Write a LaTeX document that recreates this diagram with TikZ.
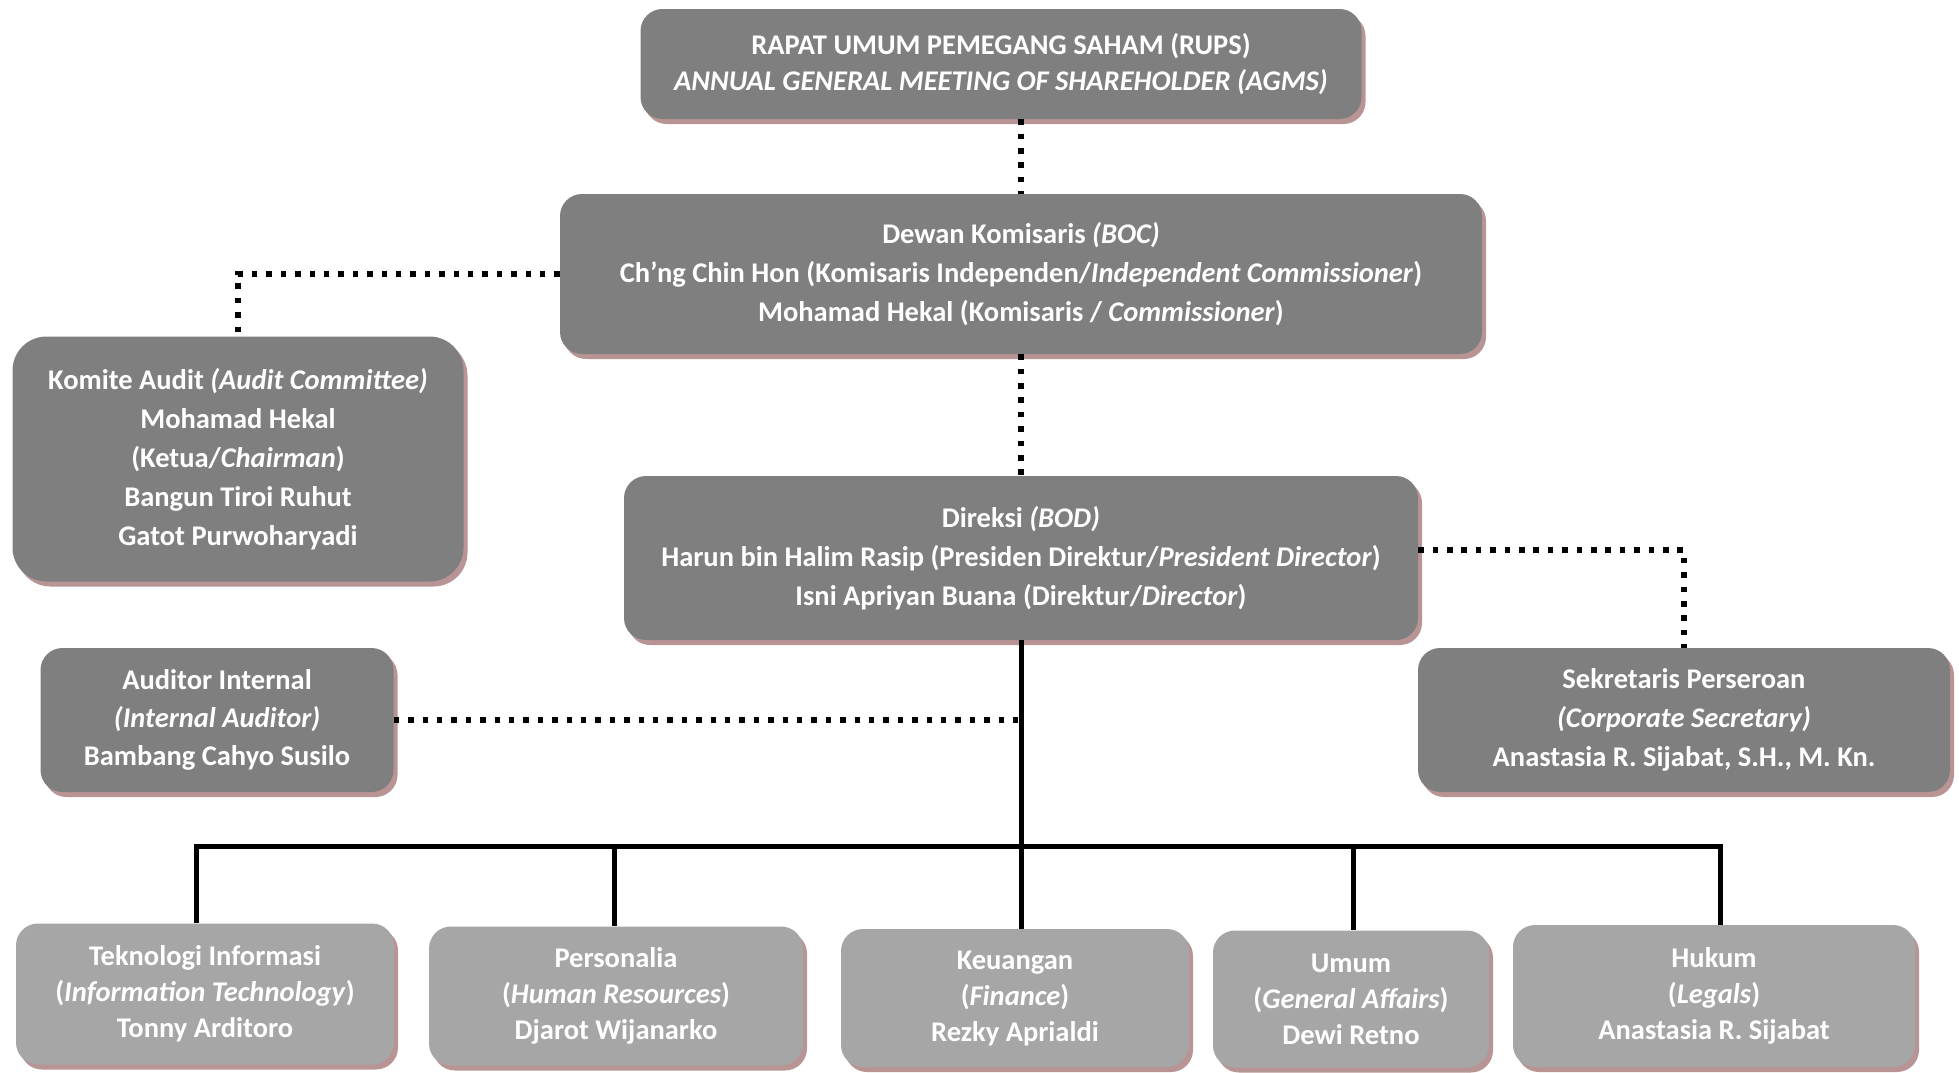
\documentclass[tikz,border=0pt]{standalone}
\usepackage{fontspec}
\setmainfont{Carlito}
\usetikzlibrary{shadows}
\definecolor{darkbox}{HTML}{7F7F7F}
\definecolor{lightbox}{HTML}{A6A6A6}
\definecolor{shadowc}{HTML}{B89494}
\tikzset{
  basebox/.style={rounded corners=22pt, text=white, align=center,
    font=\fontsize{28.5}{39}\selectfont\bfseries, inner sep=0pt,
    drop shadow={shadow xshift=4pt, shadow yshift=-5pt, fill=shadowc, opacity=1}},
  dbox/.style={basebox, fill=darkbox},
  lbox/.style={basebox, fill=lightbox, font=\fontsize{28.5}{36}\selectfont\bfseries},
  dotline/.style={line width=5.5pt, dash pattern=on 5.5pt off 8.9pt, line cap=butt},
  solidline/.style={line width=5pt}
}
\begin{document}
\begin{tikzpicture}[x=1pt,y=-1pt]
\useasboundingbox (0,0) rectangle (1959,1072);
% boxes
\node[dbox, minimum width=721pt, minimum height=110pt,
  font=\fontsize{28.5}{36}\selectfont\bfseries] (rups) at (1001,64)
  {RAPAT UMUM PEMEGANG SAHAM (RUPS)\\\textit{ANNUAL GENERAL MEETING OF SHAREHOLDER (AGMS)}};
\node[dbox, minimum width=922pt, minimum height=160pt] (boc) at (1021,274)
  {Dewan Komisaris \textit{(BOC)}\\Ch’ng Chin Hon (Komisaris Independen/\textit{Independent Commissioner})\\Mohamad Hekal (Komisaris / \textit{Commissioner})};
\node[dbox, rounded corners=34pt, minimum width=451pt, minimum height=245pt] (komite) at (238,459)
  {Komite Audit \textit{(Audit Committee)}\\Mohamad Hekal\\(Ketua/\textit{Chairman})\\Bangun Tiroi Ruhut\\Gatot Purwoharyadi};
\node[dbox, minimum width=794pt, minimum height=164pt] (bod) at (1021,558)
  {Direksi \textit{(BOD)}\\Harun bin Halim Rasip (Presiden Direktur/\textit{President Director})\\Isni Apriyan Buana (Direktur/\textit{Director})};
\node[dbox, minimum width=353pt, minimum height=144pt,
  font=\fontsize{28.5}{38}\selectfont\bfseries] (audint) at (217,720)
  {Auditor Internal\\\textit{(Internal Auditor)}\\Bambang Cahyo Susilo};
\node[dbox, minimum width=532pt, minimum height=144pt] (sek) at (1684,720)
  {Sekretaris Perseroan\\\textit{(Corporate Secretary)}\\Anastasia R. Sijabat, S.H., M. Kn.};
\node[lbox, minimum width=378pt, minimum height=141pt] (ti) at (205,994)
  {Teknologi Informasi\\(\textit{Information Technology})\\Tonny Arditoro};
\node[lbox, minimum width=374pt, minimum height=139pt] (pers) at (616,996)
  {Personalia\\(\textit{Human Resources})\\Djarot Wijanarko};
\node[lbox, minimum width=348pt, minimum height=138pt] (keu) at (1015,998)
  {Keuangan\\(\textit{Finance})\\Rezky Aprialdi};
\node[lbox, minimum width=276pt, minimum height=137pt] (umum) at (1351,999)
  {Umum\\(\textit{General Affairs})\\Dewi Retno};
\node[lbox, minimum width=402pt, minimum height=142pt] (hukum) at (1714,996)
  {Hukum\\(\textit{Legals})\\Anastasia R. Sijabat};
% dotted connectors
\draw[dotline] (rups.south -| boc.north) -- (boc.north);
\draw[dotline] (boc.west) -| (komite.north);
\draw[dotline] (boc.south) -- (boc.south |- bod.north);
\draw[dotline] ([yshift=8pt]bod.east) -| (sek.north);
\coordinate (bus) at (1021,846);
\draw[dotline] (audint.east) -- (audint.east -| bus);
% solid tree
\draw[solidline] (bod.south) -- (bus);
\draw[solidline] (196,0 |- ti.north) -- (196,0 |- bus) -- (1720,0 |- bus) -- (1720,0 |- hukum.north);
\draw[solidline] (614,0 |- bus) -- (614,0 |- pers.north);
\draw[solidline] (bus) -- (bus |- keu.north);
\draw[solidline] (1353,0 |- bus) -- (1353,0 |- umum.north);
\end{tikzpicture}
\end{document}
